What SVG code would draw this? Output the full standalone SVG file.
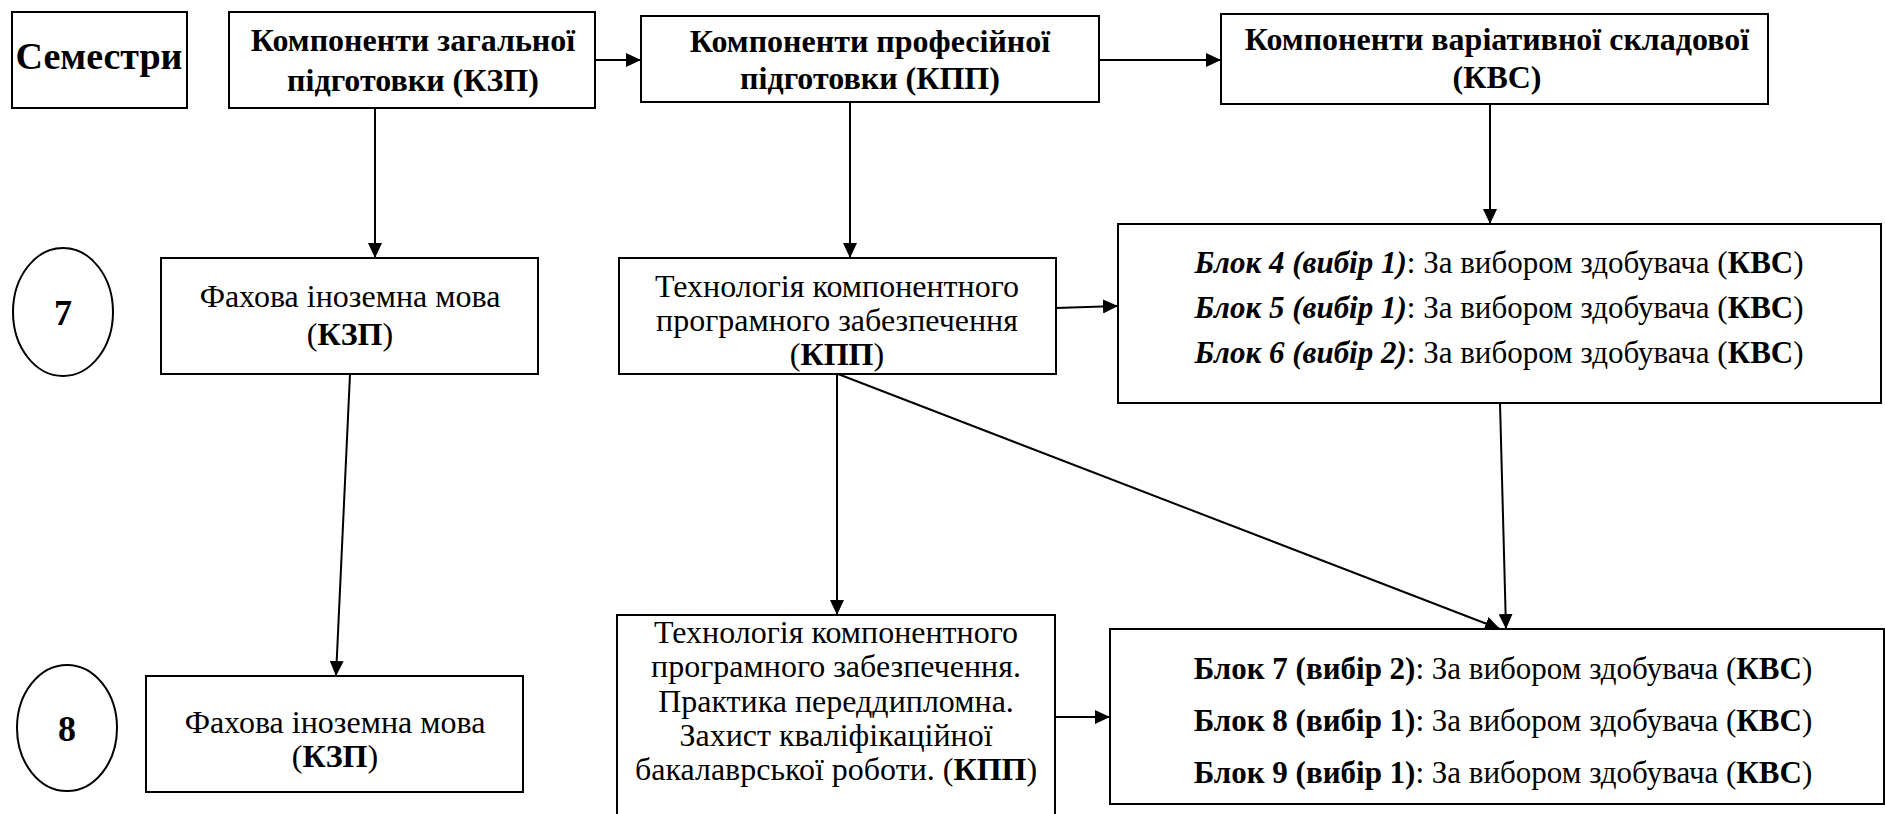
<svg xmlns="http://www.w3.org/2000/svg" width="1885" height="814" viewBox="0 0 1885 814">
<defs>
<marker id="ah" markerUnits="userSpaceOnUse" markerWidth="15" markerHeight="14" refX="15" refY="7" orient="auto">
<path d="M0,0 L15,7 L0,14 z" fill="#000"/>
</marker>
</defs>
<rect width="1885" height="814" fill="#fff"/>
<g id="connectors" stroke="#000" stroke-width="2" fill="none" marker-end="url(#ah)">
<line x1="595" y1="60" x2="641" y2="60"/>
<line x1="1099" y1="60" x2="1221" y2="60"/>
<line x1="375" y1="108" x2="375" y2="258"/>
<line x1="850" y1="102" x2="850" y2="258"/>
<line x1="1490" y1="104" x2="1490" y2="224"/>
<line x1="350" y1="374" x2="336" y2="676"/>
<line x1="837" y1="374" x2="837" y2="615"/>
<line x1="1056" y1="308" x2="1118" y2="306"/>
<line x1="838" y1="374" x2="1500" y2="629"/>
<line x1="1500" y1="403" x2="1506" y2="629"/>
<line x1="1055" y1="717" x2="1110" y2="717"/>
</g>
<g id="semestry">
<rect x="12" y="12" width="175" height="96" fill="#fff" stroke="#000" stroke-width="2"/>
<text x="99" y="69" font-family="Liberation Serif" font-size="38" font-weight="bold" text-anchor="middle">Семестри</text>
</g>
<g id="kzp">
<rect x="229" y="12" width="366" height="96" fill="#fff" stroke="#000" stroke-width="2"/>
<text x="413" y="51" font-family="Liberation Serif" font-size="32" font-weight="bold" text-anchor="middle">Компоненти загальної</text>
<text x="413" y="91" font-family="Liberation Serif" font-size="32" font-weight="bold" text-anchor="middle">підготовки (КЗП)</text>
</g>
<g id="kpp">
<rect x="641" y="16" width="458" height="86" fill="#fff" stroke="#000" stroke-width="2"/>
<text x="870" y="52" font-family="Liberation Serif" font-size="32" font-weight="bold" text-anchor="middle">Компоненти професійної</text>
<text x="870" y="89" font-family="Liberation Serif" font-size="32" font-weight="bold" text-anchor="middle">підготовки (КПП)</text>
</g>
<g id="kvs">
<rect x="1221" y="14" width="547" height="90" fill="#fff" stroke="#000" stroke-width="2"/>
<text x="1497" y="50" font-family="Liberation Serif" font-size="32" font-weight="bold" text-anchor="middle">Компоненти варіативної складової</text>
<text x="1497" y="88" font-family="Liberation Serif" font-size="32" font-weight="bold" text-anchor="middle">(КВС)</text>
</g>
<g id="sem7">
<ellipse cx="63" cy="312" rx="50" ry="64" fill="#fff" stroke="#000" stroke-width="2"/>
<text x="63" y="325" font-family="Liberation Serif" font-size="36" font-weight="bold" text-anchor="middle">7</text>
</g>
<g id="fakh7">
<rect x="161" y="258" width="377" height="116" fill="#fff" stroke="#000" stroke-width="2"/>
<text x="350" y="307" font-family="Liberation Serif" font-size="32" text-anchor="middle">Фахова іноземна мова</text>
<text x="350" y="345" font-family="Liberation Serif" font-size="32" text-anchor="middle">(<tspan font-weight="bold">КЗП</tspan>)</text>
</g>
<g id="tech7">
<rect x="619" y="258" width="437" height="116" fill="#fff" stroke="#000" stroke-width="2"/>
<text x="837" y="297" font-family="Liberation Serif" font-size="32" text-anchor="middle">Технологія компонентного</text>
<text x="837" y="331" font-family="Liberation Serif" font-size="32" text-anchor="middle">програмного забезпечення</text>
<text x="837" y="365" font-family="Liberation Serif" font-size="32" text-anchor="middle">(<tspan font-weight="bold">КПП</tspan>)</text>
</g>
<g id="blok46">
<rect x="1118" y="224" width="763" height="179" fill="#fff" stroke="#000" stroke-width="2"/>
<text x="1499" y="273" font-family="Liberation Serif" font-size="31" text-anchor="middle"><tspan font-weight="bold" font-style="italic">Блок 4 (вибір 1)</tspan>: За вибором здобувача (<tspan font-weight="bold">КВС</tspan>)</text>
<text x="1499" y="318" font-family="Liberation Serif" font-size="31" text-anchor="middle"><tspan font-weight="bold" font-style="italic">Блок 5 (вибір 1)</tspan>: За вибором здобувача (<tspan font-weight="bold">КВС</tspan>)</text>
<text x="1499" y="363" font-family="Liberation Serif" font-size="31" text-anchor="middle"><tspan font-weight="bold" font-style="italic">Блок 6 (вибір 2)</tspan>: За вибором здобувача (<tspan font-weight="bold">КВС</tspan>)</text>
</g>
<g id="sem8">
<ellipse cx="67" cy="728" rx="50" ry="63" fill="#fff" stroke="#000" stroke-width="2"/>
<text x="67" y="741" font-family="Liberation Serif" font-size="36" font-weight="bold" text-anchor="middle">8</text>
</g>
<g id="fakh8">
<rect x="146" y="676" width="377" height="116" fill="#fff" stroke="#000" stroke-width="2"/>
<text x="335" y="733" font-family="Liberation Serif" font-size="32" text-anchor="middle">Фахова іноземна мова</text>
<text x="335" y="767" font-family="Liberation Serif" font-size="32" text-anchor="middle">(<tspan font-weight="bold">КЗП</tspan>)</text>
</g>
<g id="tech8">
<rect x="617" y="615" width="438" height="202" fill="#fff" stroke="#000" stroke-width="2"/>
<text x="836" y="643" font-family="Liberation Serif" font-size="32" text-anchor="middle">Технологія компонентного</text>
<text x="836" y="677" font-family="Liberation Serif" font-size="32" text-anchor="middle">програмного забезпечення.</text>
<text x="836" y="712" font-family="Liberation Serif" font-size="32" text-anchor="middle">Практика переддипломна.</text>
<text x="836" y="746" font-family="Liberation Serif" font-size="32" text-anchor="middle">Захист кваліфікаційної</text>
<text x="836" y="780" font-family="Liberation Serif" font-size="32" text-anchor="middle">бакалаврської роботи. (<tspan font-weight="bold">КПП</tspan>)</text>
</g>
<g id="blok79">
<rect x="1110" y="629" width="774" height="175" fill="#fff" stroke="#000" stroke-width="2"/>
<text x="1503" y="679" font-family="Liberation Serif" font-size="31" text-anchor="middle"><tspan font-weight="bold">Блок 7 (вибір 2)</tspan>: За вибором здобувача (<tspan font-weight="bold">КВС</tspan>)</text>
<text x="1503" y="731" font-family="Liberation Serif" font-size="31" text-anchor="middle"><tspan font-weight="bold">Блок 8 (вибір 1)</tspan>: За вибором здобувача (<tspan font-weight="bold">КВС</tspan>)</text>
<text x="1503" y="783" font-family="Liberation Serif" font-size="31" text-anchor="middle"><tspan font-weight="bold">Блок 9 (вибір 1)</tspan>: За вибором здобувача (<tspan font-weight="bold">КВС</tspan>)</text>
</g>
</svg>
